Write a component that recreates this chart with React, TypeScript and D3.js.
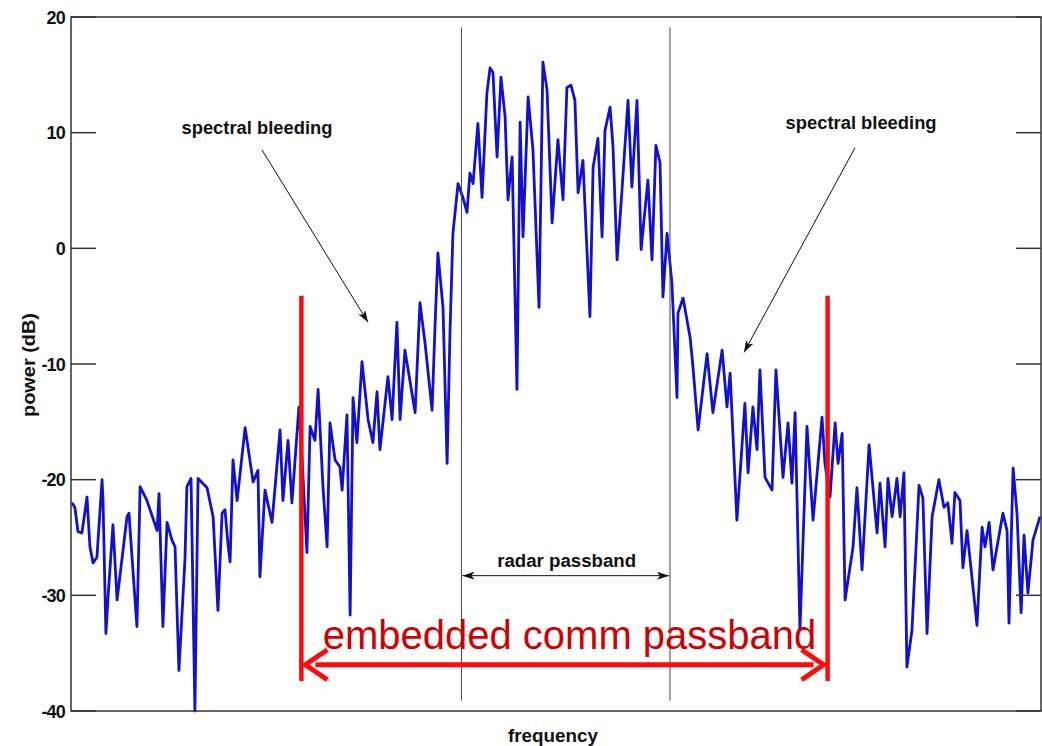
import React from "react";
import * as d3 from "d3";

// Power spectrum: [frequency bin, power in dB]
const SPECTRUM: [number, number][] = [
  [0.4, -22.0], [1.6, -22.4], [2.9, -24.5], [4.5, -24.6], [6.6, -21.5], [7.8, -25.8],
  [9.1, -27.2], [10.7, -26.7], [12.8, -20.0], [13.2, -21.8], [14.4, -33.3], [15.3, -30.1],
  [17.3, -23.9], [19.0, -30.4], [23.1, -23.2], [23.9, -22.9], [26.4, -30.4], [27.2, -32.7],
  [28.5, -20.6], [31.3, -21.8], [35.5, -24.4], [36.3, -21.2], [37.9, -32.7], [39.6, -23.7],
  [41.6, -25.2], [42.9, -25.8], [44.5, -36.5], [47.0, -26.9], [47.8, -20.6], [49.5, -19.9],
  [51.1, -40.0], [52.4, -19.9], [56.1, -20.7], [58.6, -23.2], [60.6, -31.3], [62.3, -22.9],
  [63.5, -22.6], [64.7, -25.5], [65.6, -27.1], [66.8, -18.3], [68.5, -21.8], [71.8, -15.5],
  [75.1, -20.2], [77.1, -19.2], [77.9, -28.4], [80.0, -20.9], [82.9, -23.7], [86.2, -15.7],
  [87.4, -21.8], [89.5, -16.6], [91.1, -22.0], [94.0, -13.7], [95.3, -18.3], [97.3, -26.3],
  [98.6, -15.4], [100.6, -16.6], [101.9, -12.2], [103.9, -20.6], [105.6, -25.8], [106.8, -15.1],
  [108.9, -18.3], [110.9, -18.9], [111.8, -20.9], [113.8, -14.4], [115.1, -31.7], [116.3, -12.9],
  [117.9, -16.8], [120.0, -9.8], [122.5, -14.8], [124.5, -16.8], [126.2, -12.4], [127.4, -17.4],
  [130.7, -11.1], [132.4, -14.8], [134.4, -6.4], [135.7, -14.8], [137.7, -8.8], [141.9, -14.2],
  [143.9, -4.7], [146.0, -8.2], [148.9, -14.0], [150.1, -6.8], [151.3, -0.4], [153.4, -5.1],
  [155.1, -18.6], [156.3, -7.1], [157.5, 1.3], [159.6, 5.6], [161.6, 4.4], [163.3, 3.1],
  [164.5, 6.5], [165.8, 5.6], [167.8, 10.8], [169.5, 4.4], [171.5, 13.4], [172.8, 15.6],
  [174.0, 15.2], [175.7, 7.9], [177.3, 14.8], [179.0, 11.4], [180.2, 4.2], [181.9, 7.9],
  [183.9, -12.2], [185.2, 10.9], [186.4, 1.0], [188.5, 13.1], [190.5, 8.5], [193.0, -5.1],
  [194.6, 16.1], [196.3, 13.7], [198.4, 2.2], [200.8, 9.4], [202.9, 4.2], [204.5, 13.9],
  [206.2, 14.1], [207.8, 12.8], [209.1, 4.8], [211.1, 7.6], [214.0, -5.9], [215.3, 7.0],
  [217.3, 9.5], [219.0, 1.0], [220.2, 10.2], [222.3, 12.2], [223.5, 8.8], [225.2, -1.0],
  [227.2, 5.0], [229.7, 12.8], [231.3, 5.3], [233.4, 12.8], [235.1, -0.1], [237.9, 5.9],
  [239.6, -1.0], [241.2, 8.9], [242.9, 7.4], [244.1, -4.2], [245.8, 1.3], [247.8, -3.0],
  [249.9, -12.9], [250.3, -5.6], [252.4, -4.3], [255.3, -7.7], [256.5, -10.3], [258.6, -15.7],
  [262.3, -9.1], [264.7, -14.2], [268.5, -8.8], [270.5, -13.7], [271.8, -10.8], [274.6, -23.5],
  [277.9, -13.4], [279.2, -19.4], [281.2, -13.7], [282.9, -17.4], [284.1, -10.5], [286.2, -19.8],
  [289.1, -20.9], [290.7, -10.5], [293.6, -19.8], [295.7, -15.1], [297.3, -20.3], [298.6, -14.2],
  [300.6, -33.0], [303.5, -15.4], [306.0, -23.5], [309.7, -14.6], [310.9, -18.6], [313.0, -21.5],
  [315.1, -15.1], [316.3, -18.6], [318.0, -16.0], [319.2, -30.4], [322.5, -25.8], [324.1, -20.7],
  [326.2, -27.8], [329.1, -17.0], [332.4, -24.6], [333.6, -20.3], [335.7, -25.8], [336.9, -19.9],
  [338.6, -23.2], [340.6, -19.9], [341.9, -23.2], [343.5, -19.4], [344.7, -36.2], [346.8, -33.0],
  [349.7, -20.5], [351.3, -21.6], [353.0, -33.3], [355.1, -23.2], [357.9, -20.0], [360.0, -22.4],
  [361.6, -22.0], [363.3, -25.5], [364.5, -21.1], [366.6, -21.8], [367.8, -27.6], [369.5, -24.4],
  [373.6, -32.6], [375.7, -24.1], [376.9, -25.8], [378.6, -23.7], [380.2, -27.8], [384.3, -22.9],
  [386.0, -24.4], [386.8, -32.4], [388.5, -19.0], [390.1, -22.9], [391.8, -31.5], [393.0, -24.8],
  [394.6, -29.8], [396.7, -25.2], [399.6, -23.2],
];

const FREQ_DOMAIN: [number, number] = [0, 400];
const POWER_DOMAIN: [number, number] = [-40, 20];
const POWER_TICKS = [-40, -30, -20, -10, 0, 10, 20];

// Band edges (frequency bins)
const RADAR_BAND: [number, number] = [161, 247];
const COMM_BAND: [number, number] = [95, 312];

// Vertical extents (dB) of band markers
const RADAR_LINE_SPAN: [number, number] = [19.1, -39.1];
const RADAR_ARROW_DB = -28.3;
const COMM_LINE_SPAN: [number, number] = [-4.1, -37.4];
const COMM_ARROW_DB = -36.0;
const COMM_LABEL_DB = -34.6;

// Annotations: label position, arrow tail and arrow head in data units
const BLEED_NOTES = [
  { text: "spectral bleeding", label: [76.7, 9.9], tail: [78.8, 8.5], head: [122.5, -6.4] },
  { text: "spectral bleeding", label: [325.8, 10.3], tail: [323.3, 8.7], head: [277.5, -9.0] },
];

const W = 1042;
const H = 746;
const M = { left: 71, top: 17, right: 1041, bottom: 711 };

export default function App() {
  const x = d3.scaleLinear().domain(FREQ_DOMAIN).range([M.left, M.right]);
  const y = d3.scaleLinear().domain(POWER_DOMAIN).range([M.bottom, M.top]);
  const line = d3
    .line<[number, number]>()
    .x((d) => x(d[0]))
    .y((d) => y(d[1]));

  const font = "'Liberation Sans', Arial, Helvetica, sans-serif";
  const axisColor = "#333";
  const tickLen = 25;

  const commL = x(COMM_BAND[0]);
  const commR = x(COMM_BAND[1]);
  const commY = y(COMM_ARROW_DB);

  return (
    <svg
      width={W}
      height={H}
      viewBox={`0 0 ${W} ${H}`}
      style={{ position: "absolute", left: 0, top: 0, background: "#fff" }}
      fontFamily={font}
    >
      <defs>
        <marker
          id="ah"
          viewBox="0 0 12 8"
          refX="12"
          refY="4"
          markerWidth="12"
          markerHeight="8"
          markerUnits="userSpaceOnUse"
          orient="auto-start-reverse"
        >
          <path d="M0,0 L12,4 L0,8 L3,4 Z" fill="#111" />
        </marker>
      </defs>

      {/* spectrum trace */}
      <path
        d={line(SPECTRUM) || ""}
        fill="none"
        stroke="#1212cc"
        strokeWidth={2.8}
        strokeLinejoin="round"
      />

      {/* radar passband edges */}
      {RADAR_BAND.map((f, i) => (
        <line
          key={"rb" + i}
          x1={x(f)}
          x2={x(f)}
          y1={y(RADAR_LINE_SPAN[0])}
          y2={y(RADAR_LINE_SPAN[1])}
          stroke="#444"
          strokeWidth={1}
        />
      ))}
      <line
        x1={x(RADAR_BAND[0]) + 1}
        x2={x(RADAR_BAND[1]) - 1}
        y1={y(RADAR_ARROW_DB)}
        y2={y(RADAR_ARROW_DB)}
        stroke="#111"
        strokeWidth={1}
        markerStart="url(#ah)"
        markerEnd="url(#ah)"
      />
      <text
        x={(x(RADAR_BAND[0]) + x(RADAR_BAND[1])) / 2 + 1}
        y={y(RADAR_ARROW_DB) - 9}
        textAnchor="middle"
        fontSize={18}
        fontWeight="bold"
        fill="#111"
        textLength={139}
        lengthAdjust="spacingAndGlyphs"
      >
        radar passband
      </text>

      {/* spectral bleeding annotations */}
      {BLEED_NOTES.map((n, i) => (
        <g key={"bn" + i}>
          <text
            x={x(n.label[0])}
            y={y(n.label[1])}
            textAnchor="middle"
            fontSize={18}
            fontWeight="bold"
            fill="#111"
            textLength={151}
            lengthAdjust="spacingAndGlyphs"
          >
            {n.text}
          </text>
          <line
            x1={x(n.tail[0])}
            y1={y(n.tail[1])}
            x2={x(n.head[0])}
            y2={y(n.head[1])}
            stroke="#111"
            strokeWidth={1}
            markerEnd="url(#ah)"
          />
        </g>
      ))}

      {/* embedded comm passband */}
      {COMM_BAND.map((f, i) => (
        <line
          key={"cb" + i}
          x1={x(f)}
          x2={x(f)}
          y1={y(COMM_LINE_SPAN[0])}
          y2={y(COMM_LINE_SPAN[1])}
          stroke="#ff0a0a"
          strokeWidth={4.5}
        />
      ))}
      <line x1={commL + 14} x2={commR - 14} y1={commY} y2={commY} stroke="#ff0a0a" strokeWidth={5} />
      <path
        d={`M${commL + 26},${commY - 15} L${commL + 4},${commY} L${commL + 26},${commY + 15}`}
        fill="none"
        stroke="#ff0a0a"
        strokeWidth={5}
      />
      <path
        d={`M${commR - 26},${commY - 15} L${commR - 4},${commY} L${commR - 26},${commY + 15}`}
        fill="none"
        stroke="#ff0a0a"
        strokeWidth={5}
      />
      <text
        x={(commL + commR) / 2 + 5}
        y={y(COMM_LABEL_DB)}
        textAnchor="middle"
        fontSize={40}
        fill="#d00000"
      >
        embedded comm passband
      </text>

      {/* axes frame and ticks */}
      <rect
        x={M.left}
        y={M.top}
        width={M.right - M.left}
        height={M.bottom - M.top}
        fill="none"
        stroke={axisColor}
        strokeWidth={1.5}
      />
      {POWER_TICKS.map((t) => (
        <g key={"t" + t}>
          <line x1={M.left} x2={M.left + tickLen} y1={y(t)} y2={y(t)} stroke={axisColor} strokeWidth={1.5} />
          <line x1={M.right - tickLen} x2={M.right} y1={y(t)} y2={y(t)} stroke={axisColor} strokeWidth={1.5} />
          <text
            x={M.left - 6}
            y={y(t) + 6.5}
            textAnchor="end"
            fontSize={18}
            fontWeight="bold"
            fill="#111"
            letterSpacing={-0.8}
          >
            {t}
          </text>
        </g>
      ))}

      {/* axis titles */}
      <text
        x={(M.left + M.right) / 2 - 3}
        y={742}
        textAnchor="middle"
        fontSize={19}
        fontWeight="bold"
        fill="#111"
        textLength={90}
        lengthAdjust="spacingAndGlyphs"
      >
        frequency
      </text>
      <text
        transform={`translate(35, ${(M.top + M.bottom) / 2 + 1}) rotate(-90)`}
        textAnchor="middle"
        fontSize={18}
        fontWeight="bold"
        fill="#111"
        textLength={104}
        lengthAdjust="spacingAndGlyphs"
      >
        power (dB)
      </text>
    </svg>
  );
}
